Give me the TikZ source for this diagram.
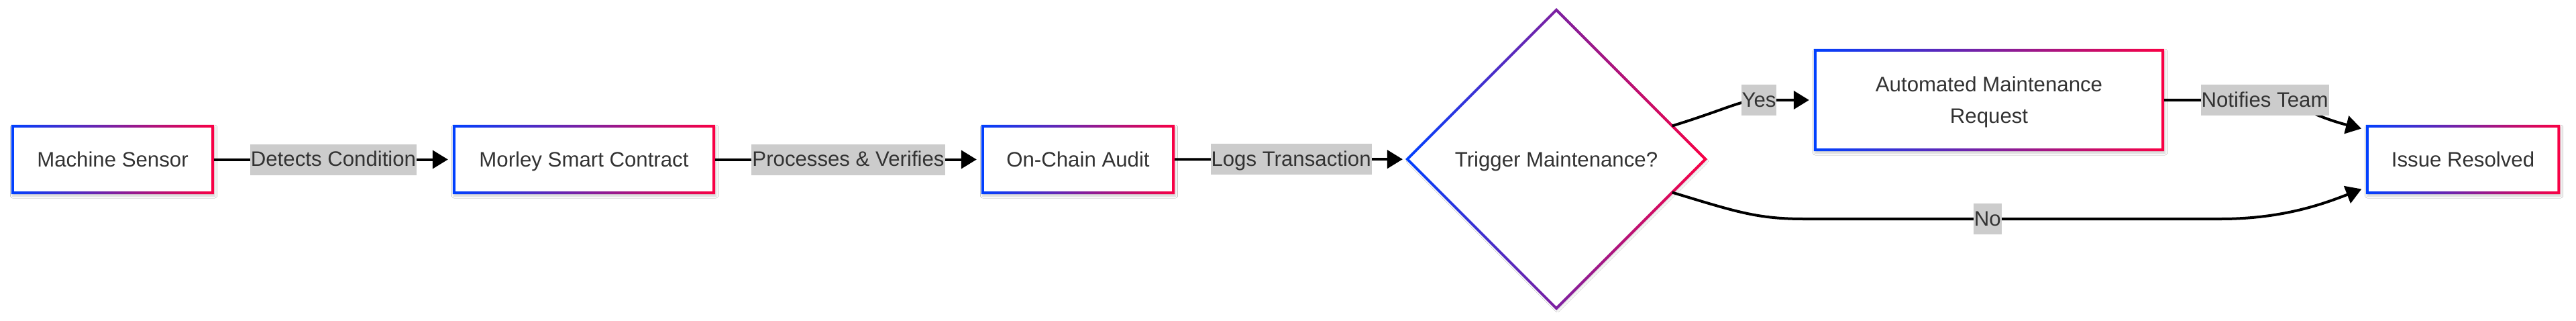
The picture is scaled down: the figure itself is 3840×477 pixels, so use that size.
\documentclass[tikz,border=0pt]{standalone}
\usepackage{fontspec}
\setmainfont{Liberation Sans}
\usetikzlibrary{arrows.meta,shapes.geometric,shadows.blur}
\definecolor{gA}{RGB}{0,64,255}
\definecolor{gB}{RGB}{250,0,68}
\definecolor{txt}{RGB}{51,51,51}
\definecolor{lblbg}{RGB}{204,204,204}
\newcommand\gframe[1]{\shade[even odd rule,left color=gA,right color=gB]
  (#1.north west) rectangle (#1.south east)
  ([shift={(4pt,-4pt)}]#1.north west) rectangle ([shift={(-4pt,4pt)}]#1.south east);}
\newcommand\gdiamond[1]{\shade[even odd rule,left color=gA,right color=gB]
  ([yshift=2.8pt]#1.north) -- ([xshift=2.8pt]#1.east) -- ([yshift=-2.8pt]#1.south) -- ([xshift=-2.8pt]#1.west) -- cycle
  ([yshift=-2.8pt]#1.north) -- ([xshift=-2.8pt]#1.east) -- ([yshift=2.8pt]#1.south) -- ([xshift=2.8pt]#1.west) -- cycle;}
\tikzset{
  base/.style={font=\fontsize{31.2}{47}\selectfont, text=txt, inner sep=0pt, fill=white,
    blur shadow={shadow xshift=1.5pt, shadow yshift=-3pt, shadow blur radius=3pt, shadow opacity=18}},
  box/.style={base, rectangle, minimum height=103pt, text height=22.5pt, text depth=0pt, align=center},
  dia/.style={base, diamond, aspect=1, minimum width=444pt, minimum height=444pt, text height=22.5pt, text depth=0pt},
  edge/.style={line width=4pt, draw=black, -{Triangle[length=23pt,width=27pt]}, shorten >=7pt},
  lbl/.style={font=\fontsize{31.2}{47}\selectfont, text=txt, fill=lblbg, inner xsep=1pt, inner ysep=5pt,
    text height=28pt, text depth=8pt}
}
\begin{document}
\begin{tikzpicture}[x=1pt,y=-1pt]
\fill[white] (0,0) rectangle (3840,477);
\useasboundingbox (0,0) rectangle (3840,477);
% nodes
\node[box, minimum width=302pt] (ms) at (168,237.5) {Machine Sensor};
\node[box, minimum width=391pt] (msc) at (870.5,237.5) {Morley Smart Contract};
\node[box, minimum width=288pt] (oca) at (1607,237.5) {On-Chain Audit};
\node[dia] (dec) at (2320,237) {Trigger Maintenance?};
\node[box, minimum width=522pt, minimum height=152pt, text height=, text depth=0pt] (amr) at (2965,149) {Automated Maintenance\\Request};
\node[box, minimum width=289pt] (ir) at (3671.5,237.5) {Issue Resolved};
% gradient frames
\gframe{ms}
\gframe{msc}
\gframe{oca}
\gframe{amr}
\gframe{ir}
\gdiamond{dec}
% edges
\draw[edge] (ms) -- node[lbl]{Detects Condition} (msc);
\draw[edge] (msc) -- node[lbl]{Processes \& Verifies} (oca);
\draw[edge] (oca) -- node[lbl]{Logs Transaction} (dec);
\draw[edge] (dec.16) .. controls (2575,162) and (2595,149) .. (2622,149) node[lbl]{Yes} -- (amr.west);
\draw[edge] (amr.east) -- (3376,149) node[lbl]{Notifies Team} .. controls (3420,149) and (3440,171) .. (ir.163);
\draw[edge] (dec.-16) .. controls (2590,316) and (2620,326) .. (2690,326)
  -- node[lbl,pos=0.44]{No} (3310,326) .. controls (3400,326) and (3460,305) .. (ir.-164);
\end{tikzpicture}
\end{document}
